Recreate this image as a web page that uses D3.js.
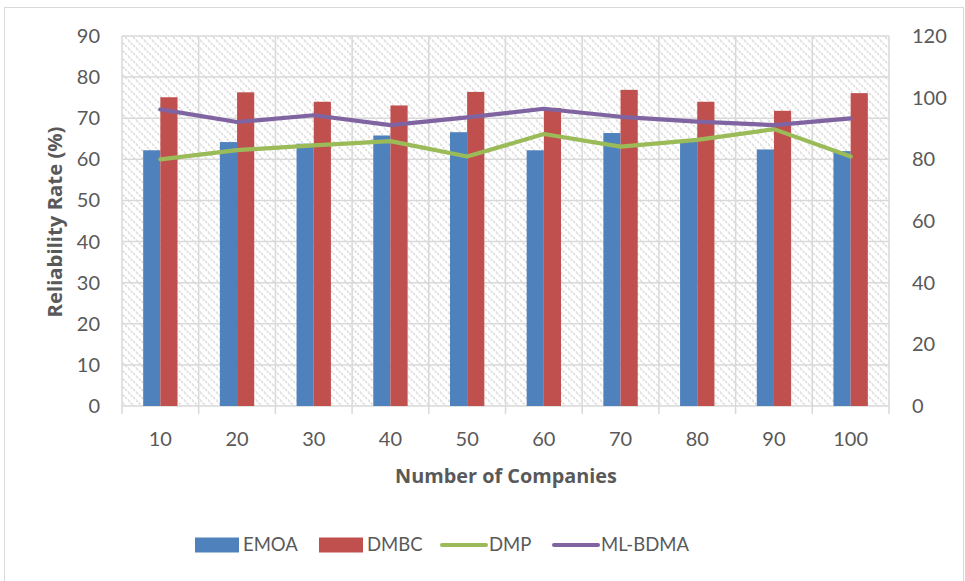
<!DOCTYPE html>
<html>
<head>
<meta charset="utf-8">
<script src="https://cdn.jsdelivr.net/npm/d3@7"></script>
<style>
  html, body { margin: 0; padding: 0; background: #fff; }
  svg { display: block; }
  text { font-family: Lato, "Noto Sans", sans-serif; fill: #595959; }
  .title { font-family: "Open Sans", Lato, sans-serif; font-weight: bold; }
</style>
</head>
<body>
<svg id="chart" width="965" height="581"></svg>
<script>
// Number of companies on the x axis
const categories = ["10", "20", "30", "40", "50", "60", "70", "80", "90", "100"];
// Bar series, read against the left axis (%)
const emoa = [62.2, 64.2, 63.8, 65.8, 66.6, 62.2, 66.4, 64.5, 62.4, 62.0];
const dmbc = [75.1, 76.3, 74.0, 73.1, 76.4, 72.5, 76.9, 74.0, 71.8, 76.1];
// Line series, read against the right axis
const dmp = [80.0, 83.0, 84.5, 85.9, 80.9, 88.2, 84.1, 86.3, 89.8, 80.9];
const mlbdma = [96.2, 92.1, 94.3, 91.1, 93.6, 96.4, 93.8, 92.2, 91.1, 93.3];
// Axis ticks
const leftTicks = [0, 10, 20, 30, 40, 50, 60, 70, 80, 90];
const rightTicks = [0, 20, 40, 60, 80, 100, 120];

const colors = { EMOA: "#4F81BD", DMBC: "#C0504D", DMP: "#9BBB59", "ML-BDMA": "#8064A2" };
const grid = "#d9d9d9";

const svg = d3.select("#chart");
const plot = { left: 122, right: 889, top: 36, bottom: 406 };

// outer chart frame
svg.append("rect").attr("x", 4.5).attr("y", 7.5).attr("width", 959).attr("height", 580)
  .attr("fill", "#fff").attr("stroke", grid).attr("stroke-width", 1);

// diagonal hatch used as the plot-area fill
const defs = svg.append("defs");
const pat = defs.append("pattern").attr("id", "hatch").attr("patternUnits", "userSpaceOnUse")
  .attr("width", 8).attr("height", 8);
pat.append("rect").attr("width", 8).attr("height", 8).attr("fill", "#fff");
pat.append("path").attr("d", "M-2,-2 L10,10 M-6,2 L2,10 M6,-2 L14,6")
  .attr("stroke", "#dcdcdc").attr("stroke-width", 1.8).attr("stroke-dasharray", "2.2,1.2");

const x = d3.scaleBand().domain(categories).range([plot.left, plot.right]);
const yL = d3.scaleLinear().domain([0, 90]).range([plot.bottom, plot.top]);
const yR = d3.scaleLinear().domain([0, 120]).range([plot.bottom, plot.top]);

svg.append("rect").attr("x", plot.left).attr("y", plot.top)
  .attr("width", plot.right - plot.left).attr("height", plot.bottom - plot.top)
  .attr("fill", "url(#hatch)");

// horizontal gridlines (left axis)
svg.append("g").selectAll("line").data(leftTicks).join("line")
  .attr("x1", plot.left).attr("x2", plot.right)
  .attr("y1", d => yL(d)).attr("y2", d => yL(d))
  .attr("stroke", grid).attr("stroke-width", 1.5);

// vertical gridlines at category boundaries, with ticks below the axis
const bounds = categories.map(c => x(c)).concat([plot.right]);
svg.append("g").selectAll("line").data(bounds).join("line")
  .attr("x1", d => d).attr("x2", d => d)
  .attr("y1", plot.top).attr("y2", plot.bottom + 8)
  .attr("stroke", grid).attr("stroke-width", 1.5);

// bars
const bw = x.bandwidth() * 0.224;
const bars = svg.append("g");
bars.selectAll(".emoa").data(categories).join("rect")
  .attr("x", d => x(d) + x.bandwidth() / 2 - bw)
  .attr("y", (d, i) => yL(emoa[i]))
  .attr("width", bw).attr("height", (d, i) => yL(0) - yL(emoa[i]))
  .attr("fill", colors.EMOA);
bars.selectAll(".dmbc").data(categories).join("rect")
  .attr("x", d => x(d) + x.bandwidth() / 2)
  .attr("y", (d, i) => yL(dmbc[i]))
  .attr("width", bw).attr("height", (d, i) => yL(0) - yL(dmbc[i]))
  .attr("fill", colors.DMBC);

// lines on the secondary axis
const line = d3.line().x((d, i) => x(categories[i]) + x.bandwidth() / 2).y(d => yR(d));
[[dmp, colors.DMP], [mlbdma, colors["ML-BDMA"]]].forEach(([vals, col]) => {
  svg.append("path").datum(vals).attr("d", line)
    .attr("fill", "none").attr("stroke", col).attr("stroke-width", 4.2)
    .attr("stroke-linejoin", "round").attr("stroke-linecap", "round");
});

// tick labels
const fs = 20;
svg.append("g").selectAll("text").data(leftTicks).join("text")
  .attr("x", 100).attr("y", d => yL(d)).attr("dy", "0.35em")
  .attr("text-anchor", "end").attr("font-size", fs).text(d => d);
svg.append("g").selectAll("text").data(rightTicks).join("text")
  .attr("x", 912).attr("y", d => yR(d)).attr("dy", "0.35em")
  .attr("text-anchor", "start").attr("font-size", fs).text(d => d);
svg.append("g").selectAll("text").data(categories).join("text")
  .attr("x", d => x(d) + x.bandwidth() / 2).attr("y", 439).attr("dy", "0.35em")
  .attr("text-anchor", "middle").attr("font-size", fs).text(d => d);

// axis titles, sized to their run lengths
function fitTitle(sel, width) {
  const w = sel.node().getComputedTextLength();
  const size = parseFloat(sel.attr("font-size"));
  sel.attr("font-size", (size * width / w).toFixed(2));
}
const xt = svg.append("text").attr("class", "title").attr("x", 506).attr("y", 476).attr("dy", "0.35em")
  .attr("text-anchor", "middle").attr("font-size", 19)
  .text("Number of Companies");
fitTitle(xt, 222);
const yt = svg.append("text").attr("class", "title").attr("transform", "translate(55,222) rotate(-90)")
  .attr("dy", "0.35em").attr("text-anchor", "middle").attr("font-size", 19)
  .text("Reliability Rate (%)");
fitTitle(yt, 191);

// legend
const legend = [
  { name: "EMOA", type: "bar", x: 195 },
  { name: "DMBC", type: "bar", x: 319 },
  { name: "DMP", type: "line", x: 441 },
  { name: "ML-BDMA", type: "line", x: 553 }
];
const ly = 545;
legend.forEach(l => {
  if (l.type === "bar") {
    svg.append("rect").attr("x", l.x).attr("y", ly - 7.5).attr("width", 44).attr("height", 15)
      .attr("fill", colors[l.name]);
  } else {
    svg.append("line").attr("x1", l.x + 1).attr("x2", l.x + 45).attr("y1", ly).attr("y2", ly)
      .attr("stroke", colors[l.name]).attr("stroke-width", 4).attr("stroke-linecap", "round");
  }
  svg.append("text").attr("x", l.x + 48).attr("y", ly).attr("dy", "0.35em")
    .attr("font-size", 18.5).text(l.name);
});
</script>
</body>
</html>
